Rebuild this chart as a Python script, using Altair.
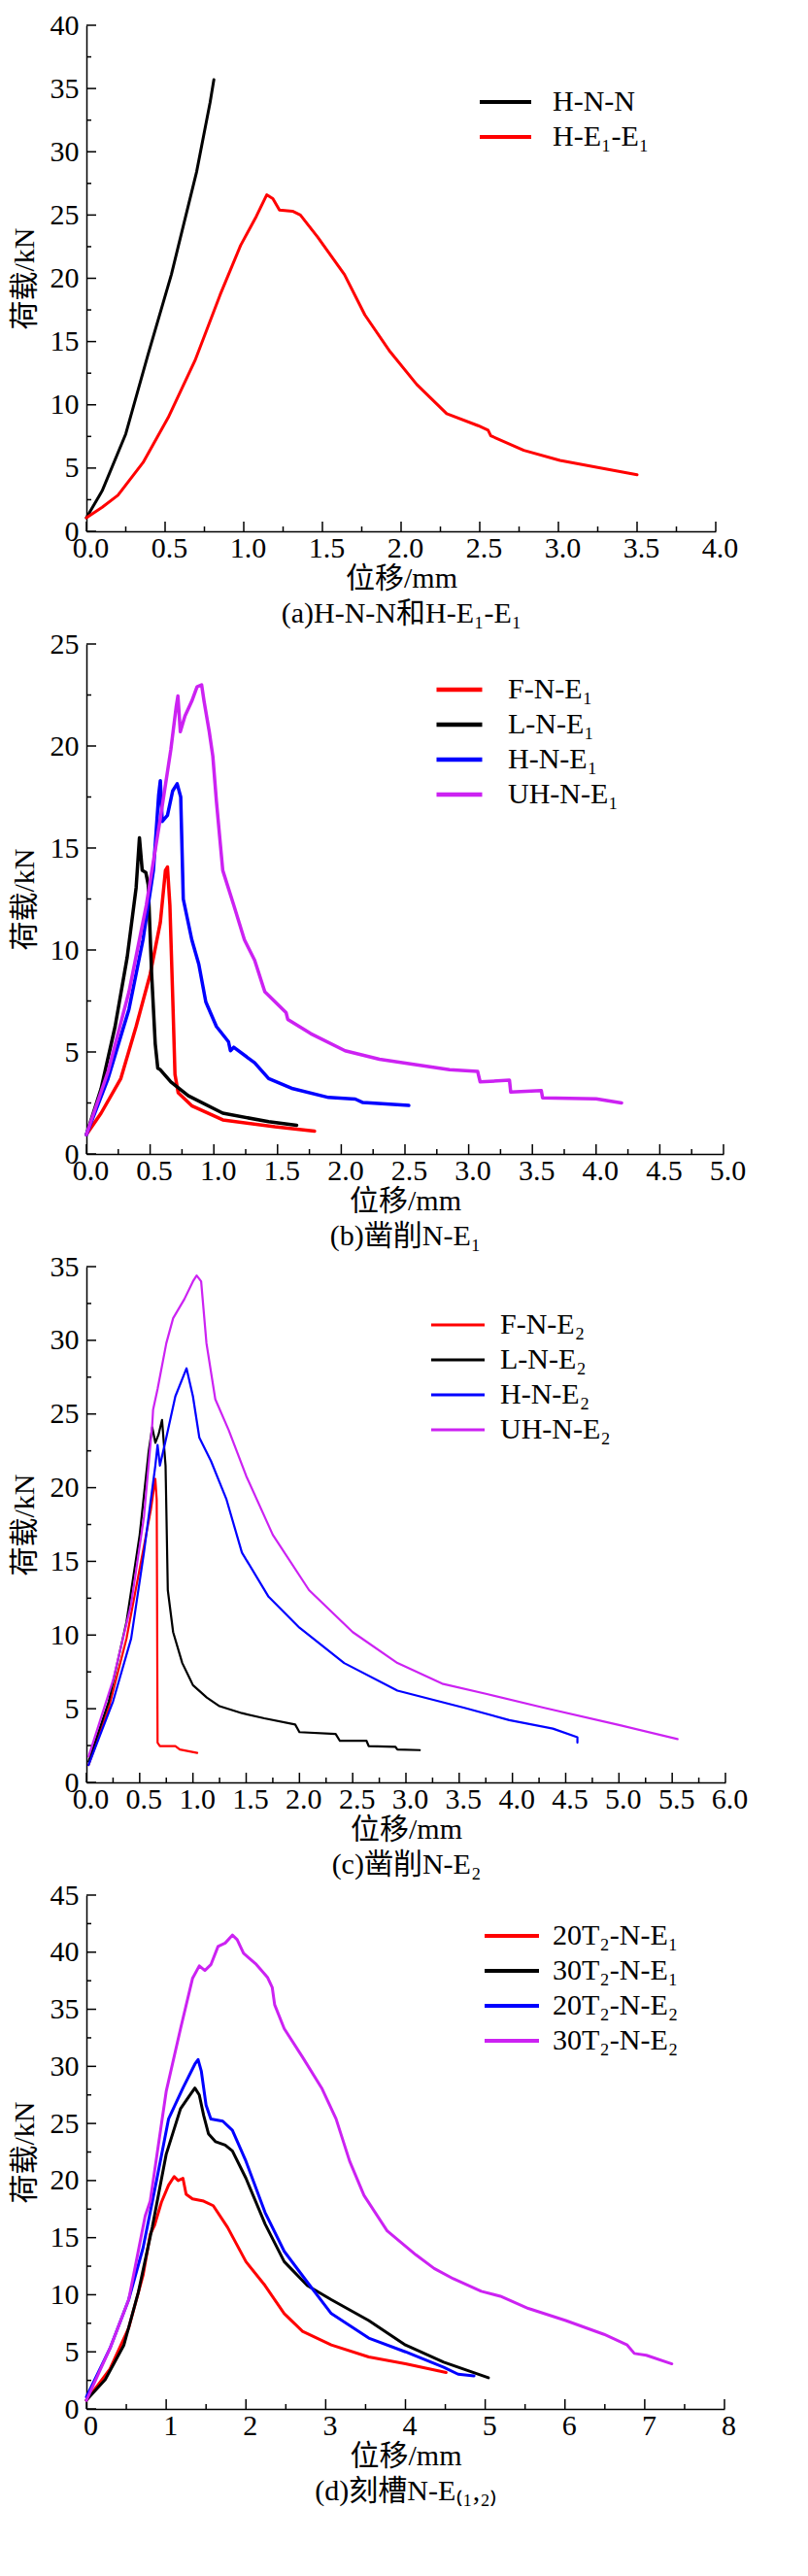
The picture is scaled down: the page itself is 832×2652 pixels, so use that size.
import altair as alt
import pandas as pd
import numpy as np

# ---------------- data ----------------
# (a)
a_labels = ["H-N-N", "H-E₁-E₁"]
a_HNN_x = [0, 0.1, 0.25, 0.39, 0.54, 0.605, 0.70, 0.786, 0.81]
a_HNN_y = [1.07, 3.2, 7.7, 13.9, 20.3, 23.6, 28.4, 33.9, 35.7]
a_HE_x = [0, 0.1, 0.2, 0.36, 0.52, 0.69, 0.85, 0.98, 1.08, 1.146, 1.185, 1.227, 1.31, 1.36,
          1.47, 1.64, 1.77, 1.93, 2.1, 2.29, 2.49, 2.553, 2.57, 2.78, 3.01, 3.25, 3.5]
a_HE_y = [1.07, 1.9, 2.85, 5.44, 9.0, 13.5, 18.7, 22.6, 24.9, 26.6, 26.3, 25.4, 25.3, 25.0,
          23.25, 20.3, 17.1, 14.2, 11.6, 9.3, 8.35, 8.0, 7.55, 6.4, 5.6, 5.05, 4.47]

# (b)
b_labels = ["F-N-E₁", "L-N-E₁", "H-N-E₁", "UH-N-E₁"]
b_F_x = [0, 0.115, 0.27, 0.39, 0.5, 0.58, 0.62, 0.636, 0.655, 0.68, 0.695, 0.72, 0.83, 1.07, 1.48, 1.79]
b_F_y = [0.95, 2.0, 3.7, 6.25, 8.8, 11.35, 13.9, 14.07, 12.2, 7.1, 3.9, 3.0, 2.35, 1.67, 1.33, 1.12]
b_L_x = [0, 0.115, 0.225, 0.32, 0.39, 0.416, 0.438, 0.466, 0.485, 0.512, 0.54, 0.56, 0.58, 0.663,
         0.8, 1.07, 1.43, 1.65]
b_L_y = [0.95, 3.2, 6.25, 9.65, 13.05, 15.5, 13.9, 13.8, 13.2, 8.8, 5.4, 4.2, 4.13, 3.53,
         2.85, 2.0, 1.58, 1.41]
b_H_x = [0, 0.17, 0.334, 0.444, 0.526, 0.567, 0.58, 0.595, 0.636, 0.677, 0.712, 0.74, 0.76, 0.827,
         0.882, 0.937, 1.02, 1.115, 1.13, 1.156, 1.32, 1.43, 1.62, 1.9, 2.11, 2.17, 2.53]
b_H_y = [0.95, 3.7, 7.1, 10.5, 13.9, 17.6, 18.3, 16.3, 16.6, 17.8, 18.15, 17.5, 12.5, 10.5,
         9.3, 7.45, 6.25, 5.5, 5.06, 5.23, 4.47, 3.7, 3.2, 2.77, 2.69, 2.52, 2.38]
b_UH_x = [0, 0.17, 0.334, 0.47, 0.58, 0.663, 0.704, 0.718, 0.737, 0.773, 0.827, 0.868, 0.904, 0.923,
          0.964, 0.992, 1.02, 1.07, 1.156, 1.24, 1.32, 1.4, 1.567, 1.58, 1.76, 2.03, 2.3, 2.58,
          2.85, 3.07, 3.09, 3.32, 3.33, 3.57, 3.58, 4.0, 4.2]
b_UH_y = [0.95, 4.05, 7.95, 12.2, 16.45, 19.85, 21.9, 22.45, 20.7, 21.46, 22.2, 22.9, 23.0, 22.2,
          20.7, 19.5, 17.3, 13.9, 12.2, 10.5, 9.5, 7.95, 6.93, 6.6, 5.9, 5.06, 4.64, 4.38,
          4.13, 4.05, 3.53, 3.62, 3.03, 3.11, 2.75, 2.7, 2.5]

# (c)
c_labels = ["F-N-E₂", "L-N-E₂", "H-N-E₂", "UH-N-E₂"]
c_F_x = [0.02, 0.21, 0.376, 0.5, 0.605, 0.647, 0.66, 0.668, 0.69, 0.835, 0.877, 1.04]
c_F_y = [1.18, 5.06, 9.76, 14.5, 18.5, 20.6, 19.2, 2.7, 2.47, 2.47, 2.23, 2.0]
c_L_x = [0.02, 0.21, 0.376, 0.5, 0.585, 0.618, 0.647, 0.677, 0.71, 0.743, 0.764, 0.814, 0.9, 0.97,
         1.0, 1.13, 1.25, 1.46, 1.67, 1.96, 2.0, 2.34, 2.38, 2.63, 2.65, 2.9, 2.92, 3.13]
c_L_y = [1.41, 5.5, 10.9, 16.8, 22.5, 24.1, 23.05, 23.6, 24.6, 21.5, 13.05, 10.2, 8.1, 7.05,
         6.6, 5.76, 5.17, 4.7, 4.35, 3.93, 3.41, 3.29, 2.82, 2.82, 2.47, 2.42, 2.23, 2.19]
c_H_x = [0.02, 0.25, 0.42, 0.54, 0.647, 0.668, 0.69, 0.75, 0.835, 0.94, 1.0, 1.06, 1.17, 1.315,
         1.46, 1.71, 2.0, 2.42, 2.92, 3.55, 3.97, 4.38, 4.61, 4.61]
c_H_y = [1.18, 5.5, 9.76, 15.6, 21.5, 22.9, 21.5, 23.4, 26.2, 28.1, 26.2, 23.4, 21.8, 19.2,
         15.6, 12.6, 10.5, 8.1, 6.23, 5.06, 4.23, 3.65, 3.06, 2.7]
c_UH_x = [0.02, 0.25, 0.42, 0.54, 0.618, 0.626, 0.668, 0.75, 0.814, 0.92, 1.0, 1.035, 1.077, 1.127,
          1.21, 1.336, 1.5, 1.75, 2.09, 2.5, 2.92, 3.34, 3.76, 4.3, 5.01, 5.55]
c_UH_y = [1.76, 6.94, 12.1, 18.0, 24.3, 25.3, 26.7, 29.8, 31.5, 32.8, 34.0, 34.4, 34.0, 29.8,
          26.0, 23.9, 20.8, 16.8, 13.05, 10.2, 8.1, 6.7, 6.0, 5.06, 3.88, 2.94]

# (d)
d_labels = ["20T₂-N-E₁", "30T₂-N-E₁", "20T₂-N-E₂", "30T₂-N-E₂"]
d_R_x = [0, 0.295, 0.53, 0.71, 0.8, 0.855, 0.94, 1.03, 1.1, 1.15, 1.21, 1.25, 1.33, 1.47, 1.59,
         1.77, 2.0, 2.24, 2.48, 2.71, 3.07, 3.54, 4.0, 4.51]
d_R_y = [0.76, 3.5, 7.1, 11.7, 15.3, 16.1, 18.1, 19.6, 20.35, 20.0, 20.2, 18.8, 18.4, 18.2, 17.8,
         15.9, 12.9, 10.8, 8.35, 6.8, 5.6, 4.55, 3.95, 3.19]
d_K_x = [0, 0.236, 0.47, 0.65, 0.825, 1.0, 1.18, 1.3, 1.36, 1.415, 1.47, 1.53, 1.62, 1.74, 1.83,
         2.0, 2.24, 2.48, 2.77, 3.07, 3.54, 4.0, 4.48, 5.04]
d_K_y = [0.76, 2.58, 5.6, 10.2, 15.9, 22.3, 26.3, 27.5, 28.1, 27.5, 25.7, 24.1, 23.4, 23.1, 22.6,
         20.2, 16.2, 12.9, 10.8, 9.57, 7.74, 5.6, 4.1, 2.73]
d_B_x = [0, 0.295, 0.53, 0.71, 0.885, 1.03, 1.21, 1.36, 1.4, 1.44, 1.5, 1.56, 1.71, 1.83, 2.0,
         2.24, 2.48, 2.77, 3.07, 3.54, 4.0, 4.48, 4.66, 4.86]
d_B_y = [1.06, 5.3, 9.57, 14.1, 20.2, 25.4, 28.1, 30.2, 30.6, 29.6, 26.6, 25.4, 25.2, 24.4, 21.7,
         17.2, 13.8, 11.1, 8.35, 6.2, 5.0, 3.64, 3.04, 2.9]
d_P_x = [0, 0.295, 0.53, 0.737, 0.8, 0.885, 1.0, 1.18, 1.33, 1.415, 1.485, 1.56, 1.65, 1.74, 1.83,
         1.89, 1.97, 2.12, 2.27, 2.33, 2.36, 2.48, 2.71, 2.95, 3.13, 3.3, 3.48, 3.77, 4.13, 4.36,
         4.6, 4.95, 5.19, 5.54, 6.01, 6.49, 6.78, 6.87, 7.02, 7.34]
d_P_y = [0.76, 5.3, 9.57, 16.9, 18.2, 22.3, 27.8, 33.3, 37.7, 38.8, 38.4, 38.9, 40.5, 40.8, 41.5,
         41.1, 39.9, 39.0, 37.8, 36.9, 35.4, 33.3, 30.8, 28.1, 25.4, 21.7, 18.7, 15.6, 13.5, 12.3,
         11.4, 10.3, 9.87, 8.8, 7.74, 6.53, 5.6, 4.86, 4.7, 3.95]

RED, BLACK, BLUE, PURPLE = "#ff0000", "#000000", "#0000ff", "#cc22f2"

SERIF = "Liberation Serif"
TITLEF = "Liberation Serif, Noto Sans CJK SC"


def make_df(labels, xs, ys):
    rows = []
    for lab, xv, yv in zip(labels, xs, ys):
        for i, (a, b) in enumerate(zip(xv, yv)):
            rows.append({"s": lab, "x": a, "y": b, "i": i})
    return pd.DataFrame(rows)


def axis_common():
    return dict(ticks=False, tickSize=0, grid=False, labelFlush=False, labelOverlap=False,
                labelFont=SERIF, labelFontSize=30, labelColor="black",
                titleFont=TITLEF, titleFontSize=30, titleFontWeight="normal", titleColor="black",
                domainColor="black", domainWidth=1.5)


def panel(labels, xs, ys, colors, xmax, xstep, ymax, width, height, xfmt, caption,
          stroke, lx, ly, loff, symlen):
    df = make_df(labels, xs, ys)
    xscale = alt.Scale(domain=[0, xmax], nice=False, zero=False)
    yscale = alt.Scale(domain=[0, ymax], nice=False, zero=False)
    nx = int(round(xmax / xstep))
    xmaj = [round(k * xstep, 3) for k in range(nx + 1)]
    xmin = [round((k + 0.5) * xstep, 3) for k in range(nx)]
    ny = int(round(ymax / 5))
    ymaj = [k * 5 for k in range(ny + 1)]
    ymin = [k * 5 + 2.5 for k in range(ny)]

    lines = alt.Chart(df).mark_line(strokeWidth=stroke, strokeJoin="round", strokeCap="round").encode(
        x=alt.X("x:Q", scale=xscale,
                axis=alt.Axis(values=xmaj, format=xfmt, labelPadding=2, labelOffset=4,
                              title=["位移/mm", caption], titlePadding=1,
                              titleLineHeight=36, **axis_common())),
        y=alt.Y("y:Q", scale=yscale,
                axis=alt.Axis(values=ymaj, format="d", labelPadding=8,
                              title="荷载/kN", titlePadding=11, **axis_common())),
        color=alt.Color("s:N", scale=alt.Scale(domain=labels, range=colors),
                        sort=labels,
                        legend=alt.Legend(orient="none", legendX=lx, legendY=ly, title=None,
                                          symbolType="stroke", symbolSize=symlen * symlen,
                                          symbolStrokeWidth=stroke + 1, clipHeight=30,
                                          rowPadding=6, labelOffset=loff, padding=0,
                                          labelFont=SERIF, labelFontSize=30, labelColor="black",
                                          labelLimit=400)),
        order="i:Q",
    )

    xt_major = alt.Chart(pd.DataFrame({"x": xmaj})).mark_rule(color="black", strokeWidth=1.5).encode(
        x=alt.X("x:Q", scale=xscale), y=alt.value(height), y2=alt.value(height - 10))
    xt_minor = alt.Chart(pd.DataFrame({"x": xmin})).mark_rule(color="black", strokeWidth=1.5).encode(
        x=alt.X("x:Q", scale=xscale), y=alt.value(height), y2=alt.value(height - 5))
    yt_major = alt.Chart(pd.DataFrame({"y": ymaj})).mark_rule(color="black", strokeWidth=1.5).encode(
        y=alt.Y("y:Q", scale=yscale), x=alt.value(0), x2=alt.value(10))
    yt_minor = alt.Chart(pd.DataFrame({"y": ymin})).mark_rule(color="black", strokeWidth=1.5).encode(
        y=alt.Y("y:Q", scale=yscale), x=alt.value(0), x2=alt.value(5))

    return alt.layer(xt_major, xt_minor, yt_major, yt_minor, lines).properties(
        width=width, height=height)


pa = panel(a_labels, [a_HNN_x, a_HE_x], [a_HNN_y, a_HE_y], [BLACK, RED],
           4.0, 0.5, 40, 648, 521, ".1f", "(a)H-N-N和H-E₁-E₁", 3, 403, 64, 20, 53)
pb = panel(b_labels, [b_F_x, b_L_x, b_H_x, b_UH_x], [b_F_y, b_L_y, b_H_y, b_UH_y],
           [RED, BLACK, BLUE, PURPLE], 5.0, 0.5, 25, 656, 525, ".1f", "(b)凿削N-E₁", 3.5, 358, 32, 24, 47)
pc = panel(c_labels, [c_F_x, c_L_x, c_H_x, c_UH_x], [c_F_y, c_L_y, c_H_y, c_UH_y],
           [RED, BLACK, BLUE, PURPLE], 6.0, 0.5, 35, 658, 531, ".1f", "(c)凿削N-E₂", 2.2, 353, 45, 14, 55)
pd_ = panel(d_labels, [d_R_x, d_K_x, d_B_x, d_P_x], [d_R_y, d_K_y, d_B_y, d_P_y],
            [RED, BLACK, BLUE, PURPLE], 8, 1, 45, 657, 529, "d", "(d)刻槽N-E₍₁,₂₎", 3, 408, 27, 12, 56)

chart = alt.vconcat(pa, pb, pc, pd_, spacing=2).resolve_scale(
    color="independent", x="independent", y="independent"
).properties(
    padding={"left": 2, "top": 3, "right": 5, "bottom": 5}, background="white"
).configure_view(stroke=None)

chart.save("out.html", embed_options={"renderer": "svg", "actions": False})
